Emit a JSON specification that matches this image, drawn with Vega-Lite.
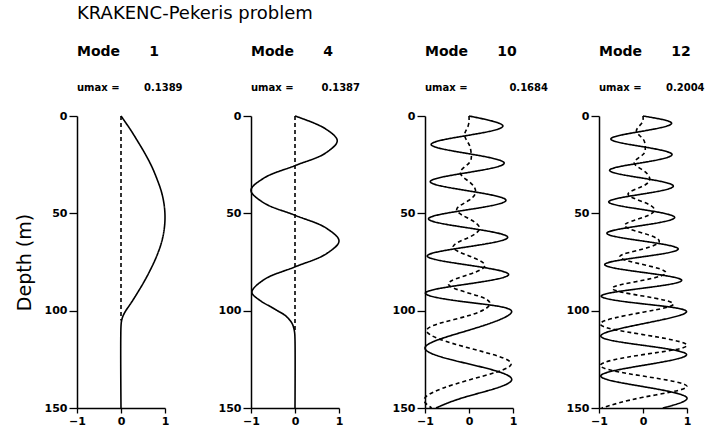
{
  "$schema": "https://vega.github.io/schema/vega-lite/v6.json",
  "background": "white",
  "padding": {"left": 15, "top": 5, "right": 5, "bottom": 5},
  "bounds": "flush",
  "spacing": 86,
  "title": {"text": "KRAKENC-Pekeris problem", "anchor": "start", "frame": "bounds", "dx": 62, "font": "DejaVu Sans", "fontSize": 18, "fontWeight": "normal", "color": "black", "offset": 22},
  "datasets": {
    "m1": [
      {"part":"re","depth":0,"u":0},{"part":"re","depth":6.5,"u":0.2},{"part":"re","depth":13,"u":0.38},{"part":"re","depth":19.5,"u":0.55},{"part":"re","depth":26,"u":0.7},{"part":"re","depth":32.5,"u":0.82},{"part":"re","depth":39,"u":0.92},{"part":"re","depth":45.5,"u":0.98},{"part":"re","depth":52,"u":1.0},{"part":"re","depth":58.5,"u":0.98},{"part":"re","depth":65,"u":0.92},{"part":"re","depth":71.5,"u":0.82},{"part":"re","depth":78,"u":0.69},{"part":"re","depth":84.5,"u":0.54},{"part":"re","depth":91,"u":0.37},{"part":"re","depth":96,"u":0.23},{"part":"re","depth":100,"u":0.11},{"part":"re","depth":102.5,"u":0.05},{"part":"re","depth":105,"u":0.015},{"part":"re","depth":108,"u":0},{"part":"re","depth":150,"u":0},
      {"part":"im","depth":0,"u":0},{"part":"im","depth":105,"u":0}
    ],
    "m4": [
      {"part":"re","depth":0,"u":0},{"part":"re","depth":6.4,"u":0.68},{"part":"re","depth":12.7,"u":0.96},{"part":"re","depth":19.1,"u":0.69},{"part":"re","depth":25.5,"u":0},{"part":"re","depth":31.8,"u":-0.7},{"part":"re","depth":38.2,"u":-1.0},{"part":"re","depth":44.6,"u":-0.71},{"part":"re","depth":51,"u":0},{"part":"re","depth":57.6,"u":0.71},{"part":"re","depth":64.2,"u":1.0},{"part":"re","depth":70.8,"u":0.71},{"part":"re","depth":77.5,"u":0},{"part":"re","depth":84,"u":-0.7},{"part":"re","depth":90.5,"u":-0.98},{"part":"re","depth":95,"u":-0.78},{"part":"re","depth":98,"u":-0.55},{"part":"re","depth":100,"u":-0.4},{"part":"re","depth":102,"u":-0.25},{"part":"re","depth":104,"u":-0.15},{"part":"re","depth":106,"u":-0.08},{"part":"re","depth":108,"u":-0.04},{"part":"re","depth":111,"u":-0.01},{"part":"re","depth":115,"u":0},{"part":"re","depth":150,"u":0},
      {"part":"im","depth":0,"u":0},{"part":"im","depth":110,"u":0}
    ],
    "m10": [
      {"part":"re","depth":0,"u":0},{"part":"re","depth":5.1,"u":0.77},{"part":"re","depth":9.85,"u":0},{"part":"re","depth":14.6,"u":-0.86},{"part":"re","depth":19.4,"u":0},{"part":"re","depth":24.2,"u":0.8},{"part":"re","depth":28.95,"u":0},{"part":"re","depth":33.7,"u":-0.88},{"part":"re","depth":38.5,"u":0},{"part":"re","depth":43.3,"u":0.84},{"part":"re","depth":48.05,"u":0},{"part":"re","depth":52.8,"u":-0.92},{"part":"re","depth":57.55,"u":0},{"part":"re","depth":62.3,"u":0.88},{"part":"re","depth":67.1,"u":0},{"part":"re","depth":71.9,"u":-0.95},{"part":"re","depth":76.65,"u":0},{"part":"re","depth":81.4,"u":0.9},{"part":"re","depth":86.2,"u":0},{"part":"re","depth":91.0,"u":-0.99},{"part":"re","depth":95.75,"u":0},{"part":"re","depth":100.5,"u":0.97},{"part":"re","depth":110,"u":0},{"part":"re","depth":119.2,"u":-1.0},{"part":"re","depth":127.4,"u":0},{"part":"re","depth":135.6,"u":0.97},{"part":"re","depth":143.8,"u":0},{"part":"re","depth":150,"u":-0.75},
      {"part":"im","depth":0,"u":0},{"part":"im","depth":5.1,"u":-0.02},{"part":"im","depth":9.85,"u":-0.1},{"part":"im","depth":14.6,"u":0},{"part":"im","depth":19.4,"u":0.05},{"part":"im","depth":24.2,"u":0},{"part":"im","depth":28.95,"u":-0.2},{"part":"im","depth":33.7,"u":0},{"part":"im","depth":38.5,"u":0.15},{"part":"im","depth":43.3,"u":0},{"part":"im","depth":48.05,"u":-0.28},{"part":"im","depth":52.8,"u":0},{"part":"im","depth":57.55,"u":0.24},{"part":"im","depth":62.3,"u":0},{"part":"im","depth":67.1,"u":-0.36},{"part":"im","depth":71.9,"u":0},{"part":"im","depth":76.65,"u":0.36},{"part":"im","depth":81.4,"u":0},{"part":"im","depth":86.2,"u":-0.47},{"part":"im","depth":91,"u":0},{"part":"im","depth":95.75,"u":0.47},{"part":"im","depth":102.5,"u":0},{"part":"im","depth":110,"u":-0.96},{"part":"im","depth":119.2,"u":0},{"part":"im","depth":127.4,"u":0.96},{"part":"im","depth":135.6,"u":0},{"part":"im","depth":143.8,"u":-0.96},{"part":"im","depth":150,"u":-0.85}
    ],
    "m12": [
      {"part":"re","depth":0,"u":0},{"part":"re","depth":3.7,"u":0.65},{"part":"re","depth":7.75,"u":0},{"part":"re","depth":11.8,"u":-0.73},{"part":"re","depth":15.8,"u":0},{"part":"re","depth":19.8,"u":0.66},{"part":"re","depth":23.9,"u":0},{"part":"re","depth":27.9,"u":-0.76},{"part":"re","depth":31.95,"u":0},{"part":"re","depth":36,"u":0.69},{"part":"re","depth":40.05,"u":0},{"part":"re","depth":44.1,"u":-0.78},{"part":"re","depth":48.1,"u":0},{"part":"re","depth":52.1,"u":0.72},{"part":"re","depth":56.15,"u":0},{"part":"re","depth":60.2,"u":-0.82},{"part":"re","depth":64.25,"u":0},{"part":"re","depth":68.3,"u":0.8},{"part":"re","depth":72.3,"u":0},{"part":"re","depth":76.3,"u":-0.87},{"part":"re","depth":80.35,"u":0},{"part":"re","depth":84.4,"u":0.88},{"part":"re","depth":88.45,"u":0},{"part":"re","depth":92.5,"u":-0.95},{"part":"re","depth":96.5,"u":0},{"part":"re","depth":100.5,"u":0.99},{"part":"re","depth":106.7,"u":0},{"part":"re","depth":113,"u":-0.96},{"part":"re","depth":117.8,"u":0},{"part":"re","depth":122.6,"u":0.99},{"part":"re","depth":128.1,"u":0},{"part":"re","depth":133.6,"u":-0.96},{"part":"re","depth":139,"u":0},{"part":"re","depth":144.5,"u":0.99},{"part":"re","depth":150,"u":0.45},
      {"part":"im","depth":0,"u":0},{"part":"im","depth":3.7,"u":-0.03},{"part":"im","depth":7.75,"u":-0.15},{"part":"im","depth":11.8,"u":0},{"part":"im","depth":15.8,"u":0.05},{"part":"im","depth":19.8,"u":0},{"part":"im","depth":23.9,"u":-0.2},{"part":"im","depth":27.9,"u":0},{"part":"im","depth":31.95,"u":0.15},{"part":"im","depth":36,"u":0},{"part":"im","depth":40.05,"u":-0.34},{"part":"im","depth":44.1,"u":0},{"part":"im","depth":48.1,"u":0.26},{"part":"im","depth":52.1,"u":0},{"part":"im","depth":56.15,"u":-0.42},{"part":"im","depth":60.2,"u":0},{"part":"im","depth":64.25,"u":0.37},{"part":"im","depth":68.3,"u":0},{"part":"im","depth":72.3,"u":-0.53},{"part":"im","depth":76.3,"u":0},{"part":"im","depth":80.35,"u":0.52},{"part":"im","depth":84.4,"u":0},{"part":"im","depth":88.45,"u":-0.7},{"part":"im","depth":92.5,"u":0},{"part":"im","depth":96.5,"u":0.69},{"part":"im","depth":100.8,"u":0},{"part":"im","depth":106.7,"u":-0.97},{"part":"im","depth":112.3,"u":0},{"part":"im","depth":117.8,"u":1.0},{"part":"im","depth":122.6,"u":0},{"part":"im","depth":128.1,"u":-0.97},{"part":"im","depth":133.6,"u":0},{"part":"im","depth":139,"u":1.0},{"part":"im","depth":144.5,"u":0},{"part":"im","depth":150,"u":-0.94}
    ]
  },
  "hconcat": [
    {
      "width": 88, "height": 292,
      "title": {"text": "Mode\u00a0\u00a0\u00a0\u00a0\u00a0\u00a01", "subtitle": "umax =\u00a0\u00a0\u00a0\u00a0\u00a0\u00a0\u00a00.1389"},
      "data": {"name": "m1"},
      "mark": {"type": "line", "interpolate": "catmull-rom", "color": "black", "strokeWidth": 1.6},
      "encoding": {
        "x": {"field": "u", "type": "quantitative", "scale": {"domain": [-1, 1], "nice": false}, "axis": {"values": [-1, 0, 1], "format": ".0f", "title": null}},
        "y": {"field": "depth", "type": "quantitative", "scale": {"domain": [0, 150], "reverse": true, "nice": false}, "axis": {"values": [0, 50, 100, 150], "title": "Depth (m)"}},
        "strokeDash": {"field": "part", "type": "nominal", "scale": {"domain": ["re", "im"], "range": [[1, 0], [4, 3]]}, "legend": null},
        "order": {"field": "depth", "type": "quantitative"}
      }
    },
    {
      "width": 88, "height": 292,
      "title": {"text": "Mode\u00a0\u00a0\u00a0\u00a0\u00a0\u00a04", "subtitle": "umax =\u00a0\u00a0\u00a0\u00a0\u00a0\u00a0\u00a0\u00a00.1387"},
      "data": {"name": "m4"},
      "mark": {"type": "line", "interpolate": "catmull-rom", "color": "black", "strokeWidth": 1.6},
      "encoding": {
        "x": {"field": "u", "type": "quantitative", "scale": {"domain": [-1, 1], "nice": false}, "axis": {"values": [-1, 0, 1], "format": ".0f", "title": null}},
        "y": {"field": "depth", "type": "quantitative", "scale": {"domain": [0, 150], "reverse": true, "nice": false}, "axis": {"values": [0, 50, 100, 150], "title": null}},
        "strokeDash": {"field": "part", "type": "nominal", "scale": {"domain": ["re", "im"], "range": [[1, 0], [4, 3]]}, "legend": null},
        "order": {"field": "depth", "type": "quantitative"}
      }
    },
    {
      "width": 88, "height": 292,
      "title": {"text": "Mode\u00a0\u00a0\u00a0\u00a0\u00a0\u00a010", "subtitle": "umax =\u00a0\u00a0\u00a0\u00a0\u00a0\u00a0\u00a0\u00a0\u00a0\u00a0\u00a0\u00a00.1684"},
      "data": {"name": "m10"},
      "mark": {"type": "line", "interpolate": "natural", "color": "black", "strokeWidth": 1.6},
      "encoding": {
        "x": {"field": "u", "type": "quantitative", "scale": {"domain": [-1, 1], "nice": false}, "axis": {"values": [-1, 0, 1], "format": ".0f", "title": null}},
        "y": {"field": "depth", "type": "quantitative", "scale": {"domain": [0, 150], "reverse": true, "nice": false}, "axis": {"values": [0, 50, 100, 150], "title": null}},
        "strokeDash": {"field": "part", "type": "nominal", "scale": {"domain": ["re", "im"], "range": [[1, 0], [4, 3]]}, "legend": null},
        "order": {"field": "depth", "type": "quantitative"}
      }
    },
    {
      "width": 88, "height": 292,
      "title": {"text": "Mode\u00a0\u00a0\u00a0\u00a0\u00a0\u00a012", "subtitle": "umax =\u00a0\u00a0\u00a0\u00a0\u00a0\u00a0\u00a00.2004"},
      "data": {"name": "m12"},
      "mark": {"type": "line", "interpolate": "natural", "color": "black", "strokeWidth": 1.6},
      "encoding": {
        "x": {"field": "u", "type": "quantitative", "scale": {"domain": [-1, 1], "nice": false}, "axis": {"values": [-1, 0, 1], "format": ".0f", "title": null}},
        "y": {"field": "depth", "type": "quantitative", "scale": {"domain": [0, 150], "reverse": true, "nice": false}, "axis": {"values": [0, 50, 100, 150], "title": null}},
        "strokeDash": {"field": "part", "type": "nominal", "scale": {"domain": ["re", "im"], "range": [[1, 0], [4, 3]]}, "legend": null},
        "order": {"field": "depth", "type": "quantitative"}
      }
    }
  ],
  "config": {
    "view": {"stroke": null},
    "title": {"anchor": "start", "frame": "group", "font": "DejaVu Sans", "fontSize": 14, "fontWeight": "bold", "color": "black", "subtitleFont": "DejaVu Sans", "subtitleFontSize": 10, "subtitleFontWeight": "bold", "subtitleColor": "black", "subtitlePadding": 24, "offset": 17},
    "axis": {"domainColor": "black", "domainWidth": 1.5, "tickColor": "black", "tickWidth": 1.3, "labelColor": "black", "labelFont": "DejaVu Sans", "labelFontSize": 11, "labelFontWeight": "bold", "labelFlush": false, "labelOverlap": false, "grid": false, "titleFont": "DejaVu Sans", "titleFontSize": 19, "titleFontWeight": "normal", "titleColor": "black"},
    "axisY": {"tickSize": 8, "labelPadding": 2, "titlePadding": 10},
    "axisX": {"tickSize": 5, "labelPadding": 2}
  }
}
